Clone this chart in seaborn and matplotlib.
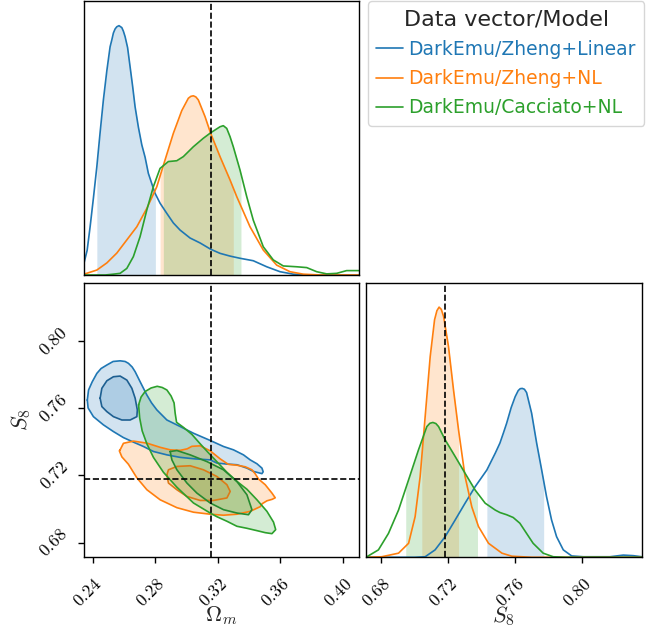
import numpy as np
import matplotlib
matplotlib.use("Agg")
import matplotlib.pyplot as plt
from matplotlib.lines import Line2D
import seaborn as sns

# ---------------- data ----------------
labels = ["DarkEmu/Zheng+Linear", "DarkEmu/Zheng+NL", "DarkEmu/Cacciato+NL"]
colors = ["#1f77b4", "#ff7f0e", "#2ca02c"]
inner_colors = ["#1d5f91", "#dd7a16", "#268a30"]
legend_title = "Data vector/Model"

om_ref = 0.3156
s8_ref = 0.7182

om_ticks = [0.24, 0.28, 0.32, 0.36, 0.40]
om_ticklabels = ["$0.24$", "$0.28$", "$0.32$", "$0.36$", "$0.40$"]
s8_ticks = [0.68, 0.72, 0.76, 0.80]
s8_ticklabels = ["$0.68$", "$0.72$", "$0.76$", "$0.80$"]
om_lim = (0.2344, 0.4103)
s8_lim = (0.6712, 0.8350)
s8_lim_1d = (0.6710, 0.8355)

# 1D marginal of Omega_m (relative height)
om_blue_x = [0.2344, 0.2364, 0.2383, 0.2404, 0.2426, 0.2447, 0.2468, 0.2490, 0.2511, 0.2522,
             0.2532, 0.2543, 0.2554, 0.2568, 0.2586, 0.2596, 0.2607, 0.2623, 0.2639, 0.2655,
             0.2671, 0.2692, 0.2714, 0.2735, 0.2756, 0.2780, 0.2799, 0.2831, 0.2874, 0.2916,
             0.2959, 0.3023, 0.3087, 0.3155, 0.3215, 0.3279, 0.3343, 0.3428, 0.3514, 0.3599,
             0.3684, 0.3770, 0.4103]
om_blue_y = [0.044, 0.090, 0.176, 0.280, 0.395, 0.520, 0.639, 0.745, 0.833, 0.858,
             0.883, 0.898, 0.906, 0.910, 0.903, 0.890, 0.870, 0.830, 0.760, 0.690,
             0.614, 0.540, 0.475, 0.430, 0.371, 0.330, 0.298, 0.262, 0.225, 0.190,
             0.164, 0.135, 0.117, 0.094, 0.079, 0.069, 0.061, 0.052, 0.030, 0.012,
             0.003, 0.000, 0.000]
om_orange_x = [0.2344, 0.2426, 0.2490, 0.2554, 0.2618, 0.2682, 0.2746, 0.2810, 0.2863, 0.2916,
               0.2970, 0.3012, 0.3028, 0.3044, 0.3060, 0.3076, 0.3119, 0.3155, 0.3215, 0.3279,
               0.3322, 0.3407, 0.3492, 0.3578, 0.3663, 0.3748, 0.3855, 0.4103]
om_orange_y = [0.003, 0.018, 0.044, 0.080, 0.128, 0.176, 0.243, 0.322, 0.420, 0.517,
               0.600, 0.645, 0.652, 0.654, 0.650, 0.639, 0.578, 0.517, 0.432, 0.347,
               0.286, 0.176, 0.091, 0.036, 0.012, 0.003, 0.000, 0.000]
om_green_x = [0.2344, 0.2480, 0.2532, 0.2575, 0.2618, 0.2660, 0.2703, 0.2746, 0.2788, 0.2831,
              0.2884, 0.2938, 0.2980, 0.3044, 0.3108, 0.3155, 0.3215, 0.3236, 0.3258, 0.3279,
              0.3300, 0.3343, 0.3386, 0.3428, 0.3492, 0.3556, 0.3620, 0.3706, 0.3770, 0.3834,
              0.3898, 0.3962, 0.4026, 0.4103]
om_green_y = [0.000, 0.000, 0.003, 0.006, 0.024, 0.067, 0.140, 0.237, 0.322, 0.389,
              0.414, 0.417, 0.432, 0.468, 0.499, 0.519, 0.541, 0.545, 0.535, 0.505,
              0.468, 0.383, 0.286, 0.200, 0.103, 0.055, 0.033, 0.030, 0.027, 0.012,
              0.004, 0.006, 0.016, 0.016]
om_intervals = [(0.2426, 0.2801), (0.2831, 0.3300), (0.2852, 0.3349)]

# 1D marginal of S8 (relative height)
s8_blue_x = [0.6710, 0.7000, 0.7063, 0.7122, 0.7182, 0.7242, 0.7301, 0.7361, 0.7431, 0.7481,
             0.7509, 0.7531, 0.7549, 0.7576, 0.7600, 0.7618, 0.7630, 0.7642, 0.7655, 0.7668,
             0.7698, 0.7728, 0.7758, 0.7787, 0.7817, 0.7847, 0.7887, 0.7937, 0.8006, 0.8165,
             0.8245, 0.8304, 0.8355]
s8_blue_y = [0.000, 0.000, 0.002, 0.027, 0.075, 0.136, 0.197, 0.257, 0.318, 0.379,
             0.416, 0.455, 0.488, 0.545, 0.585, 0.607, 0.614, 0.615, 0.612, 0.600,
             0.525, 0.416, 0.318, 0.221, 0.136, 0.075, 0.027, 0.005, 0.002, 0.002,
             0.008, 0.006, 0.002]
s8_orange_x = [0.6710, 0.6804, 0.6904, 0.6964, 0.7003, 0.7033, 0.7063, 0.7093, 0.7119, 0.7133,
               0.7146, 0.7159, 0.7173, 0.7202, 0.7232, 0.7262, 0.7301, 0.7341, 0.7381, 0.7441,
               0.7521, 0.7580, 0.7700, 0.8355]
s8_orange_y = [0.000, 0.002, 0.015, 0.051, 0.148, 0.294, 0.513, 0.731, 0.865, 0.898,
               0.911, 0.903, 0.877, 0.768, 0.610, 0.464, 0.294, 0.184, 0.112, 0.051,
               0.015, 0.004, 0.000, 0.000]
s8_green_x = [0.6710, 0.6715, 0.6784, 0.6844, 0.6904, 0.6964, 0.7023, 0.7073, 0.7091, 0.7109,
              0.7127, 0.7143, 0.7182, 0.7242, 0.7301, 0.7361, 0.7421, 0.7481, 0.7509, 0.7549,
              0.7588, 0.7628, 0.7668, 0.7707, 0.7767, 0.7827, 0.7900, 0.8355]
s8_green_y = [0.000, 0.002, 0.027, 0.087, 0.172, 0.282, 0.391, 0.476, 0.488, 0.491,
              0.487, 0.476, 0.428, 0.367, 0.306, 0.245, 0.197, 0.172, 0.163, 0.155,
              0.145, 0.124, 0.087, 0.051, 0.015, 0.002, 0.000, 0.000]
s8_intervals = [(0.7431, 0.7770), (0.7043, 0.7262), (0.6947, 0.7375)]

# 2D contours (Omega_m, S8) — outer (95%) and inner (68%)
blue_outer_om = [0.2365, 0.2373, 0.2396, 0.2426, 0.2453, 0.2490, 0.2530, 0.2575, 0.2607, 0.2628,
                 0.2652, 0.2671, 0.2703, 0.2746, 0.2776, 0.2810, 0.2874, 0.2959, 0.3044, 0.3151,
                 0.3236, 0.3300, 0.3364, 0.3407, 0.3450, 0.3482, 0.3490, 0.3482, 0.3428, 0.3386,
                 0.3322, 0.3258, 0.3194, 0.3151, 0.3055, 0.2959, 0.2874, 0.2788, 0.2724, 0.2660,
                 0.2596, 0.2532, 0.2468, 0.2404, 0.2370]
blue_outer_s8 = [0.7650, 0.7710, 0.7758, 0.7809, 0.7838, 0.7859, 0.7880, 0.7884, 0.7880, 0.7869,
                 0.7847, 0.7819, 0.7759, 0.7680, 0.7633, 0.7591, 0.7531, 0.7492, 0.7452, 0.7409,
                 0.7373, 0.7353, 0.7323, 0.7293, 0.7270, 0.7244, 0.7222, 0.7211, 0.7224, 0.7244,
                 0.7264, 0.7268, 0.7274, 0.7293, 0.7299, 0.7308, 0.7323, 0.7343, 0.7373, 0.7399,
                 0.7426, 0.7462, 0.7502, 0.7551, 0.7603]
blue_inner_om = [0.2447, 0.2458, 0.2490, 0.2532, 0.2575, 0.2618, 0.2650, 0.2671, 0.2685, 0.2682,
                 0.2639, 0.2586, 0.2532, 0.2490, 0.2458]
blue_inner_s8 = [0.7661, 0.7720, 0.7765, 0.7789, 0.7793, 0.7769, 0.7720, 0.7661, 0.7591, 0.7551,
                 0.7531, 0.7531, 0.7551, 0.7581, 0.7611]
orange_outer_om = [0.2575, 0.2596, 0.2660, 0.2746, 0.2831, 0.2895, 0.2959, 0.3004, 0.3034, 0.3087,
                   0.3151, 0.3215, 0.3266, 0.3324, 0.3375, 0.3418, 0.3439, 0.3460, 0.3503, 0.3546,
                   0.3567, 0.3548, 0.3514, 0.3484, 0.3471, 0.3407, 0.3322, 0.3236, 0.3151, 0.3044,
                   0.2938, 0.2831, 0.2746, 0.2682, 0.2628, 0.2586, 0.2570]
orange_outer_s8 = [0.7353, 0.7392, 0.7405, 0.7393, 0.7368, 0.7353, 0.7350, 0.7359, 0.7374, 0.7377,
                   0.7347, 0.7299, 0.7267, 0.7261, 0.7252, 0.7234, 0.7210, 0.7179, 0.7145, 0.7095,
                   0.7067, 0.7058, 0.7049, 0.7032, 0.7014, 0.6986, 0.6969, 0.6963, 0.6969, 0.6981,
                   0.7008, 0.7055, 0.7115, 0.7186, 0.7267, 0.7311, 0.7347]
orange_inner_om = [0.2874, 0.2884, 0.2938, 0.3023, 0.3108, 0.3194, 0.3258, 0.3279, 0.3258, 0.3172,
                   0.3087, 0.3002, 0.2938, 0.2884]
orange_inner_s8 = [0.7204, 0.7234, 0.7254, 0.7258, 0.7234, 0.7194, 0.7145, 0.7105, 0.7066, 0.7051,
                   0.7051, 0.7075, 0.7115, 0.7155]
green_outer_om = [0.2693, 0.2709, 0.2735, 0.2773, 0.2812, 0.2844, 0.2874, 0.2901, 0.2920, 0.2927,
                  0.2936, 0.2980, 0.3034, 0.3087, 0.3140, 0.3194, 0.3258, 0.3322, 0.3386, 0.3450,
                  0.3514, 0.3556, 0.3570, 0.3546, 0.3503, 0.3450, 0.3386, 0.3322, 0.3258, 0.3194,
                  0.3151, 0.3044, 0.2938, 0.2852, 0.2788, 0.2746, 0.2716, 0.2700]
green_outer_s8 = [0.7621, 0.7668, 0.7701, 0.7722, 0.7732, 0.7725, 0.7710, 0.7674, 0.7633, 0.7571,
                  0.7517, 0.7487, 0.7445, 0.7389, 0.7335, 0.7282, 0.7219, 0.7165, 0.7118, 0.7055,
                  0.6986, 0.6922, 0.6877, 0.6853, 0.6859, 0.6871, 0.6885, 0.6897, 0.6927, 0.6954,
                  0.6976, 0.7036, 0.7130, 0.7219, 0.7308, 0.7389, 0.7466, 0.7543]
green_inner_om = [0.2895, 0.2938, 0.3023, 0.3130, 0.3236, 0.3322, 0.3386, 0.3418, 0.3396, 0.3322,
                  0.3236, 0.3151, 0.3066, 0.3002, 0.2938, 0.2906]
green_inner_s8 = [0.7343, 0.7349, 0.7323, 0.7283, 0.7234, 0.7164, 0.7085, 0.6996, 0.6966, 0.6976,
                  0.6996, 0.7036, 0.7095, 0.7155, 0.7234, 0.7293]

# ---------------- style ----------------
sns.set_style("ticks")
plt.rcParams["font.family"] = ["DejaVu Sans"]
plt.rcParams["mathtext.fontset"] = "cm"
plt.rcParams["axes.edgecolor"] = "black"
plt.rcParams["axes.linewidth"] = 1.0

fig = plt.figure(figsize=(6.59, 6.31), dpi=100)
ax_top = fig.add_axes([0.1275, 0.5642, 0.4168, 0.4342])
ax_2d = fig.add_axes([0.1275, 0.1168, 0.4173, 0.4352])
ax_s8 = fig.add_axes([0.5554, 0.1168, 0.4184, 0.4352])


def draw_1d(ax, xs, ys, intervals):
    for x, y, (lo, hi), c in zip(xs, ys, intervals, colors):
        x = np.asarray(x)
        y = np.asarray(y)
        m = (x > lo) & (x < hi)
        fx = np.concatenate([[lo], x[m], [hi]])
        fy = np.concatenate([[np.interp(lo, x, y)], y[m], [np.interp(hi, x, y)]])
        ax.fill_between(fx, 0, fy, color=c, alpha=0.2, lw=0)
    for x, y, c in zip(xs, ys, colors):
        sns.lineplot(x=x, y=y, ax=ax, color=c, lw=1.2, estimator=None, sort=False)


draw_1d(ax_top, [om_blue_x, om_orange_x, om_green_x],
        [om_blue_y, om_orange_y, om_green_y], om_intervals)
ax_top.axvline(om_ref, color="black", ls="--", lw=1.2)
ax_top.set_xlim(*om_lim)
ax_top.set_ylim(0, 1)
ax_top.set_xticks([])
ax_top.set_yticks([])

draw_1d(ax_s8, [s8_blue_x, s8_orange_x, s8_green_x],
        [s8_blue_y, s8_orange_y, s8_green_y], s8_intervals)
ax_s8.axvline(s8_ref, color="black", ls="--", lw=1.2)
ax_s8.set_xlim(*s8_lim_1d)
ax_s8.set_ylim(0, 1)
ax_s8.set_yticks([])

contours = [
    (blue_outer_om, blue_outer_s8, blue_inner_om, blue_inner_s8),
    (orange_outer_om, orange_outer_s8, orange_inner_om, orange_inner_s8),
    (green_outer_om, green_outer_s8, green_inner_om, green_inner_s8),
]
for (ox, oy, ix, iy), c, ci in zip(contours, colors, inner_colors):
    ax_2d.fill(ox, oy, color=c, alpha=0.2, lw=0)
    ax_2d.fill(ix, iy, color=c, alpha=0.2, lw=0)
    sns.lineplot(x=ox + ox[:1], y=oy + oy[:1], ax=ax_2d, color=c, lw=1.2,
                 estimator=None, sort=False)
    sns.lineplot(x=ix + ix[:1], y=iy + iy[:1], ax=ax_2d, color=ci, lw=1.2,
                 estimator=None, sort=False)
ax_2d.axvline(om_ref, color="black", ls="--", lw=1.2)
ax_2d.axhline(s8_ref, color="black", ls="--", lw=1.2)
ax_2d.set_xlim(*om_lim)
ax_2d.set_ylim(*s8_lim)

for ax in (ax_top, ax_2d, ax_s8):
    for sp in ax.spines.values():
        sp.set_visible(True)
        sp.set_color("black")
        sp.set_linewidth(1.0)
    ax.tick_params(direction="out", length=4, width=1, colors="black")
    ax.set_xlabel("")
    ax.set_ylabel("")

tick_fs = 12.5
ax_2d.set_xticks(om_ticks)
ax_2d.set_xticklabels(om_ticklabels, rotation=45, ha="right", va="top",
                      rotation_mode="anchor", fontsize=tick_fs)
ax_2d.set_yticks(s8_ticks)
ax_2d.set_yticklabels(s8_ticklabels, rotation=45, ha="right", va="center",
                      fontsize=tick_fs)
ax_s8.set_xticks(s8_ticks)
ax_s8.set_xticklabels(s8_ticklabels, rotation=45, ha="right", va="top",
                      rotation_mode="anchor", fontsize=tick_fs)
ax_2d.tick_params(axis="x", pad=9)
ax_s8.tick_params(axis="x", pad=9)
ax_2d.tick_params(axis="y", pad=5)

ax_2d.set_xlabel(r"$\Omega_m$", fontsize=16, va="center")
ax_2d.xaxis.set_label_coords(0.5, -0.214)
ax_s8.set_xlabel(r"$S_8$", fontsize=16, va="center")
ax_s8.xaxis.set_label_coords(0.5, -0.214)
ax_2d.set_ylabel(r"$S_8$", fontsize=16, va="center")
ax_2d.yaxis.set_label_coords(-0.229, 0.5)

handles = [Line2D([0], [0], color=c, lw=1.2) for c in colors]
leg = fig.legend(handles, labels, title=legend_title, loc="upper left",
                 bbox_to_anchor=(368 / 659, 1 - 1 / 631), borderaxespad=0,
                 fontsize=13.5, title_fontsize=16, handlelength=1.4,
                 handletextpad=0.3, labelspacing=0.55, borderpad=0.45,
                 frameon=True, fancybox=True, edgecolor="#cccccc")
for t, c in zip(leg.get_texts(), colors):
    t.set_color(c)

fig.savefig("out.png", dpi=100)
